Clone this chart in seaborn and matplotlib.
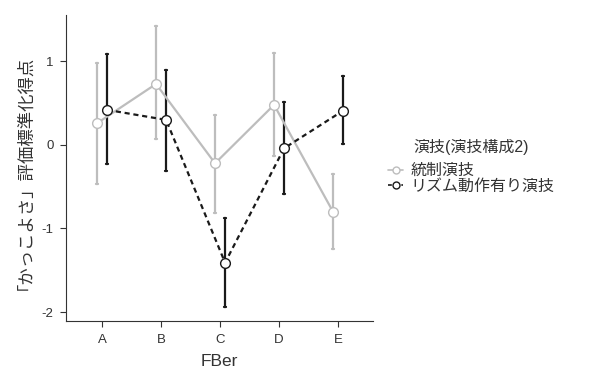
import pandas as pd
import matplotlib.pyplot as plt
import seaborn as sns

# values
fbers = ["A", "B", "C", "D", "E"]
groups = ["統制演技", "リズム動作有り演技"]
ctrl_mean = [0.26, 0.73, -0.22, 0.48, -0.80]
ctrl_low = [-0.47, 0.07, -0.82, -0.13, -1.25]
ctrl_high = [0.98, 1.42, 0.36, 1.10, -0.35]
rhythm_mean = [0.42, 0.30, -1.41, -0.04, 0.41]
rhythm_low = [-0.23, -0.31, -1.94, -0.59, 0.01]
rhythm_high = [1.09, 0.90, -0.88, 0.51, 0.82]

# long table: median of (low, mean, high) = mean, full range = error bar
rows = []
for g, m, lo, hi in [(groups[0], ctrl_mean, ctrl_low, ctrl_high),
                     (groups[1], rhythm_mean, rhythm_low, rhythm_high)]:
    for f, a, b, c in zip(fbers, lo, m, hi):
        for v in (a, b, c):
            rows.append({"FBer": f, "group": g, "score": v})
df = pd.DataFrame(rows)

sns.set_style("ticks")
plt.rcParams["font.family"] = ["Liberation Sans", "Noto Sans CJK JP", "DejaVu Sans"]

fig = plt.figure(figsize=(5.9, 3.72), dpi=100)
ax = fig.add_axes([0.112, 0.137, 0.52, 0.823])

sns.pointplot(
    data=df, x="FBer", y="score", hue="group",
    order=fbers, hue_order=groups,
    estimator="median", errorbar=("pi", 100),
    palette=["#bdbdbd", "#1a1a1a"],
    markers="o", linestyles=["-", "--"],
    dodge=0.17, capsize=0.02,
    markerfacecolor="white", markersize=7, markeredgewidth=1.0,
    linewidth=1.6, err_kws={"linewidth": 1.6},
    ax=ax,
)

# keep the white markers on top of the error bars, shorter dashes
for ln in ax.lines:
    if ln.get_marker() == "o":
        ln.set_zorder(5)
        ln.set_markerfacecolor("white")
        if ln.get_linestyle() == "--":
            ln.set_dashes((2.3, 1.7))

ax.set_xlim(-0.61, 4.59)
ax.set_ylim(-2.108, 1.557)
ax.set_yticks([-2, -1, 0, 1])
ax.set_yticklabels(["-2", "-1", "0", "1"])
ax.tick_params(labelsize=9.5, length=4, width=0.8, colors="#333333", pad=5)
ax.set_xlabel("FBer", fontsize=12.5, color="#333333", labelpad=6)
ax.set_ylabel("「かっこよさ」評価標準化得点", fontsize=12.5, color="#333333",
              labelpad=12)
for s in ["left", "bottom"]:
    ax.spines[s].set_color("#333333")
    ax.spines[s].set_linewidth(0.8)
sns.despine(ax=ax)

leg = ax.legend(
    title="演技(演技構成2)", loc="center left",
    bbox_to_anchor=(1.03, 0.505), frameon=False,
    fontsize=11.5, title_fontsize=11.5,
    handlelength=0.9, handletextpad=0.5, borderaxespad=0,
    labelspacing=0.05,
)
leg._legend_box.sep = 6
for t in leg.get_texts():
    t.set_color("#333333")
leg.get_title().set_color("#333333")
for h in leg.legend_handles:
    h.set_markerfacecolor("white")
    h.set_markersize(5)
    h.set_linewidth(1.2)

plt.savefig("out.png", dpi=100)
